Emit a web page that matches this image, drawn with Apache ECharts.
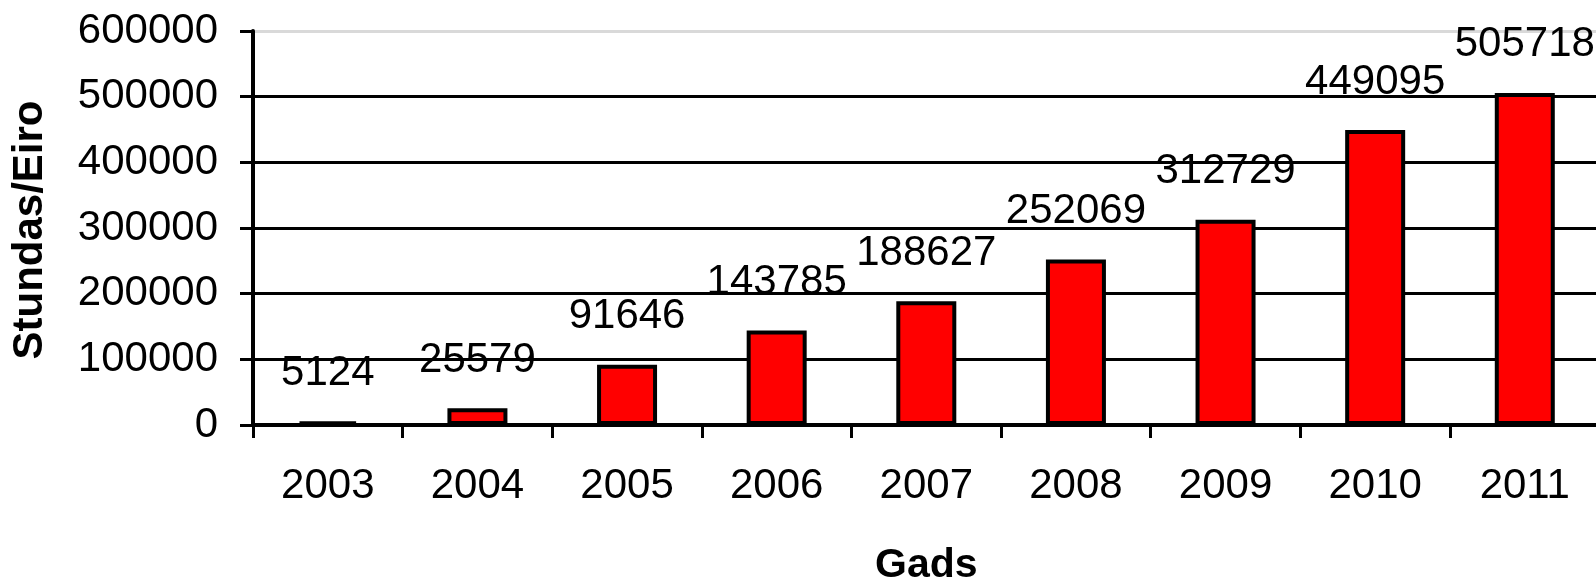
<!DOCTYPE html>
<html>
<head>
<meta charset="utf-8">
<script src="https://cdn.jsdelivr.net/npm/echarts@6/dist/echarts.min.js"></script>
<style>
html,body{margin:0;padding:0;background:#fff;}
#c{width:1596px;height:584px;}
</style>
</head>
<body>
<div id="c"></div>
<script>
const categories = ['2003','2004','2005','2006','2007','2008','2009','2010','2011'];
const values = [5124, 25579, 91646, 143785, 188627, 252069, 312729, 449095, 505718];
const yTicks = [0, 100000, 200000, 300000, 400000, 500000, 600000];
const xTitle = 'Gads';
const yTitle = 'Stundas/Eiro';

const FONT = '"Liberation Sans", Arial, sans-serif';
const chart = echarts.init(document.getElementById('c'), null, {renderer: 'canvas'});
chart.setOption({
  animation: false,
  backgroundColor: '#fff',
  grid: {left: 253, top: 31, bottom: 159, width: 1346.6, containLabel: false, outerBoundsMode: 'none'},
  xAxis: {
    type: 'category',
    data: categories,
    boundaryGap: true,
    name: xTitle,
    nameLocation: 'middle',
    nameGap: 120,
    nameTextStyle: {fontFamily: FONT, fontSize: 41, fontWeight: 'bold', color: '#000'},
    axisLine: {show: true, lineStyle: {color: '#000', width: 4}},
    axisTick: {show: true, length: 13, lineStyle: {color: '#000', width: 3}, alignWithLabel: false},
    axisLabel: {fontFamily: FONT, fontSize: 42, color: '#000', margin: 40, interval: 0},
    splitLine: {show: false}
  },
  yAxis: {
    type: 'value',
    min: yTicks[0],
    max: yTicks[yTicks.length - 1],
    interval: yTicks[1] - yTicks[0],
    name: yTitle,
    nameLocation: 'middle',
    nameGap: 202,
    nameTextStyle: {fontFamily: FONT, fontSize: 42, fontWeight: 'bold', color: '#000', padding: [0, 4, 0, 0]},
    axisLine: {show: true, lineStyle: {color: '#000', width: 4}},
    axisTick: {show: true, length: 13, lineStyle: {color: '#000', width: 3}},
    axisLabel: {fontFamily: FONT, fontSize: 42, color: '#000', margin: 35, formatter: function (v) { return String(v); }},
    splitLine: {show: true, lineStyle: {color: ['#000','#000','#000','#000','#000','#000','#d9d9d9'], width: 3}}
  },
  series: [{
    type: 'bar',
    data: values,
    barWidth: 60,
    itemStyle: {color: '#ff0000', borderColor: '#000', borderWidth: 4},
    label: {show: true, position: 'top', distance: 27, fontFamily: FONT, fontSize: 42, color: '#000'}
  }]
});
</script>
</body>
</html>
